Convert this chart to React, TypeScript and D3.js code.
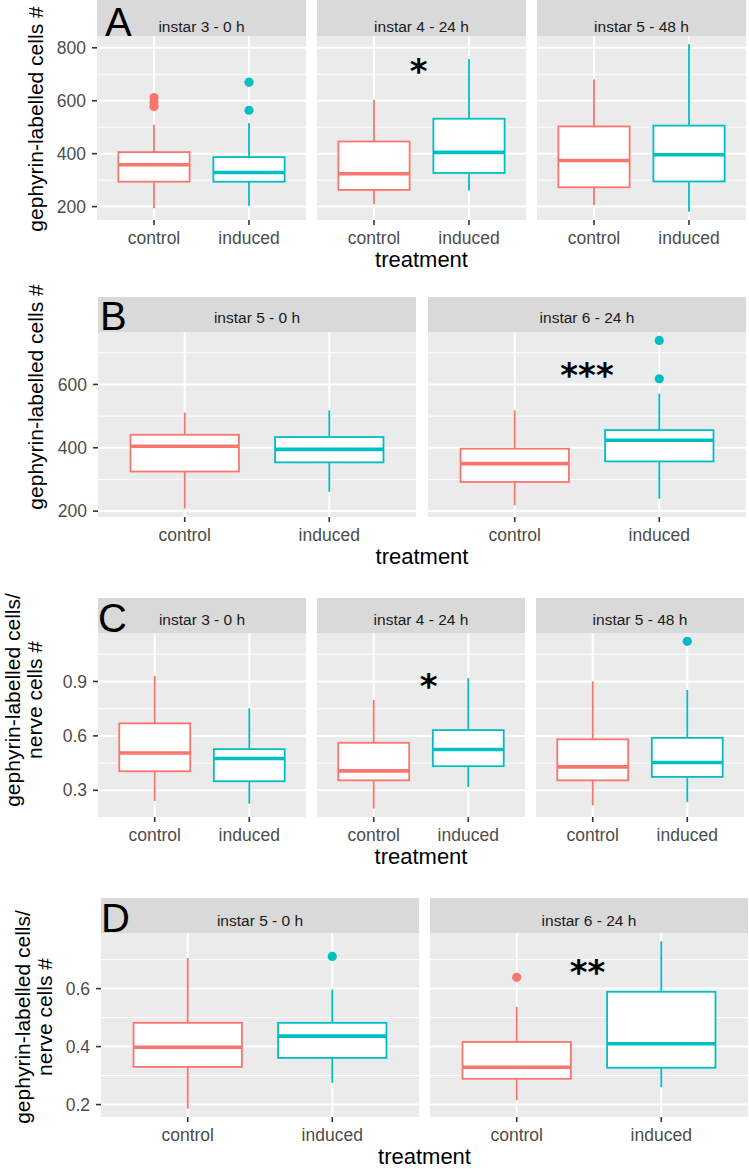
import { useEffect, useRef } from "react";
import * as d3 from "d3";

const treatments = ["control", "induced"];
const fills = ["#F8766D", "#00BFC4"];

// box stats per facet, per treatment: [lower whisker, q1, median, q3, upper whisker]
const facetsA = ["instar 3 - 0 h", "instar 4 - 24 h", "instar 5 - 48 h"];
const boxesA = [
	[[194, 294, 358, 406, 509], [203, 294, 329, 387, 516]],
	[[209, 263, 324, 446, 604], [261, 327, 405, 532, 758]],
	[[206, 273, 374, 503, 680], [181, 295, 396, 506, 813]],
];
const outliersA = [[[612, 595, 578], [670, 564]], [[], []], [[], []]];
const ticksA = [200, 400, 600, 800];

const facetsB = ["instar 5 - 0 h", "instar 6 - 24 h"];
const boxesB = [
	[[208, 325, 405, 441, 511], [261, 354, 395, 434, 518]],
	[[218, 292, 350, 397, 518], [239, 357, 424, 456, 571]],
];
const outliersB = [[[], []], [[], [739, 618]]];
const ticksB = [200, 400, 600];

const facetsC = ["instar 3 - 0 h", "instar 4 - 24 h", "instar 5 - 48 h"];
const boxesC = [
	[[0.241, 0.405, 0.506, 0.669, 0.931], [0.226, 0.35, 0.475, 0.527, 0.752]],
	[[0.199, 0.355, 0.407, 0.562, 0.798], [0.318, 0.433, 0.525, 0.632, 0.918]],
	[[0.217, 0.355, 0.429, 0.581, 0.9], [0.235, 0.374, 0.453, 0.589, 0.853]],
];
const outliersC = [[[], []], [[], []], [[], [1.121]]];
const ticksC = [0.3, 0.6, 0.9];

const facetsD = ["instar 5 - 0 h", "instar 6 - 24 h"];
const boxesD = [
	[[0.186, 0.33, 0.398, 0.482, 0.706], [0.275, 0.361, 0.436, 0.482, 0.597]],
	[[0.215, 0.289, 0.329, 0.416, 0.537], [0.26, 0.327, 0.41, 0.589, 0.763]],
];
const outliersD = [[[], [0.711]], [[0.639], []]];
const ticksD = [0.2, 0.4, 0.6];

// significance marks: [facet index, x position (category units), y value, label]
const starsA = [1, 1.47, 735, "*"];
const starsB = [1, 1.5, 648, "***"];
const starsC = [1, 1.58, 0.906, "*"];
const starsD = [1, 1.49, 0.679, "**"];

const titleSingle = ["gephyrin-labelled cells #"];
const titleRatio = ["gephyrin-labelled cells/", "nerve cells #"];

const rows = [
	{letter: "A", facets: facetsA, boxes: boxesA, outliers: outliersA, ticks: ticksA, stars: starsA, title: titleSingle,
		left: 97, right: 746, gap: 11, stripTop: 0, plotTop: 36, plotBottom: 220, stripText: 32,
		letterX: 105, letterY: 36, titleX: [43], titleY: 119},
	{letter: "B", facets: facetsB, boxes: boxesB, outliers: outliersB, ticks: ticksB, stars: starsB, title: titleSingle,
		left: 98, right: 746, gap: 12, stripTop: 297, plotTop: 332, plotBottom: 517, stripText: 323,
		letterX: 100, letterY: 330, titleX: [43], titleY: 397},
	{letter: "C", facets: facetsC, boxes: boxesC, outliers: outliersC, ticks: ticksC, stars: starsC, title: titleRatio,
		left: 98, right: 744, gap: 11, stripTop: 598, plotTop: 633, plotBottom: 817, stripText: 625,
		letterX: 98, letterY: 632, titleX: [20, 42], titleY: 700},
	{letter: "D", facets: facetsD, boxes: boxesD, outliers: outliersD, ticks: ticksD, stars: starsD, title: titleRatio,
		left: 101, right: 748, gap: 11, stripTop: 898, plotTop: 933, plotBottom: 1117, stripText: 926,
		letterX: 101, letterY: 932, titleX: [30, 52], titleY: 1017},
];

const FONT = "'Liberation Sans', Arial, Helvetica, sans-serif";

const App = () => {
	const svgRef = useRef(null);

	useEffect(() => {
		document.body.style.margin = "0";
		const svg = d3.select(svgRef.current);
		svg.selectAll("*").remove();
		svg.append("rect").attr("width", 749).attr("height", 1169).attr("fill", "#fff");

		rows.forEach((row) => {
			const g = svg.append("g");
			const all = row.boxes.flat(2).concat(row.outliers.flat(2));
			const [mn, mx] = d3.extent(all);
			const pad = (mx - mn) * 0.05;
			const y = d3.scaleLinear().domain([mn - pad, mx + pad]).range([row.plotBottom, row.plotTop]);
			const step = row.ticks[1] - row.ticks[0];
			const minors = [row.ticks[0] - step / 2, ...row.ticks.map((t) => t + step / 2)]
				.filter((v) => v >= y.domain()[0] && v <= y.domain()[1]);
			const n = row.facets.length;
			const pw = (row.right - row.left - row.gap * (n - 1)) / n;

			row.facets.forEach((facet, i) => {
				const x0 = row.left + i * (pw + row.gap);
				const x = d3.scaleLinear().domain([0.4, 2.6]).range([x0, x0 + pw]);
				const bw = (x(1.75) - x(1.0)) / 2;

				// strip
				g.append("rect")
					.attr("x", x0).attr("y", row.stripTop)
					.attr("width", pw).attr("height", row.plotTop - row.stripTop)
					.attr("fill", "#D9D9D9");
				g.append("text")
					.attr("x", x0 + pw / 2).attr("y", row.stripText)
					.attr("text-anchor", "middle")
					.attr("fill", "#1A1A1A")
					.style("font-family", FONT).style("font-size", "15.5px")
					.text(facet);

				// panel background + grid
				g.append("rect")
					.attr("x", x0).attr("y", row.plotTop)
					.attr("width", pw).attr("height", row.plotBottom - row.plotTop)
					.attr("fill", "#EBEBEB");
				minors.forEach((v) => {
					g.append("line")
						.attr("x1", x0).attr("x2", x0 + pw)
						.attr("y1", y(v)).attr("y2", y(v))
						.attr("stroke", "#fff").attr("stroke-width", 1);
				});
				row.ticks.forEach((v) => {
					g.append("line")
						.attr("x1", x0).attr("x2", x0 + pw)
						.attr("y1", y(v)).attr("y2", y(v))
						.attr("stroke", "#fff").attr("stroke-width", 2);
				});
				treatments.forEach((t, k) => {
					g.append("line")
						.attr("x1", x(k + 1)).attr("x2", x(k + 1))
						.attr("y1", row.plotTop).attr("y2", row.plotBottom)
						.attr("stroke", "#fff").attr("stroke-width", 2);
					// x ticks + labels
					g.append("line")
						.attr("x1", x(k + 1)).attr("x2", x(k + 1))
						.attr("y1", row.plotBottom).attr("y2", row.plotBottom + 5)
						.attr("stroke", "#333").attr("stroke-width", 1.6);
					g.append("text")
						.attr("x", x(k + 1)).attr("y", row.plotBottom + 24)
						.attr("text-anchor", "middle")
						.attr("fill", "#4D4D4D")
						.style("font-family", FONT).style("font-size", "17.5px")
						.text(t);
				});

				// boxes
				row.boxes[i].forEach((s, k) => {
					const cx = x(k + 1);
					const c = fills[k];
					const [lo, q1, med, q3, hi] = s;
					g.append("line").attr("x1", cx).attr("x2", cx).attr("y1", y(q3)).attr("y2", y(hi))
						.attr("stroke", c).attr("stroke-width", 1.8);
					g.append("line").attr("x1", cx).attr("x2", cx).attr("y1", y(q1)).attr("y2", y(lo))
						.attr("stroke", c).attr("stroke-width", 1.8);
					g.append("rect")
						.attr("x", cx - bw).attr("y", y(q3))
						.attr("width", bw * 2).attr("height", y(q1) - y(q3))
						.attr("fill", "#fff").attr("stroke", c).attr("stroke-width", 1.8);
					g.append("line").attr("x1", cx - bw).attr("x2", cx + bw).attr("y1", y(med)).attr("y2", y(med))
						.attr("stroke", c).attr("stroke-width", 3.6);
					row.outliers[i][k].forEach((o) => {
						g.append("circle").attr("cx", cx).attr("cy", y(o)).attr("r", 4.6).attr("fill", c);
					});
				});

				// significance
				const [si, sx, sy, label] = row.stars;
				if (si === i) {
					g.append("text")
						.attr("x", x(sx)).attr("y", y(sy) + 18)
						.attr("text-anchor", "middle")
						.attr("fill", "#000")
						.style("font-family", "'DejaVu Sans', sans-serif")
						.style("font-weight", "bold")
						.style("font-size", "34px")
						.text(label);
				}
			});

			// y axis ticks
			row.ticks.forEach((v) => {
				g.append("line")
					.attr("x1", row.left - 5).attr("x2", row.left)
					.attr("y1", y(v)).attr("y2", y(v))
					.attr("stroke", "#333").attr("stroke-width", 1.6);
				g.append("text")
					.attr("x", row.left - 11).attr("y", y(v))
					.attr("dy", "0.35em")
					.attr("text-anchor", "end")
					.attr("fill", "#4D4D4D")
					.style("font-family", FONT).style("font-size", "17.5px")
					.text(String(v));
			});

			// panel letter
			g.append("text")
				.attr("x", row.letterX).attr("y", row.letterY)
				.attr("fill", "#000")
				.style("font-family", FONT).style("font-size", "40px")
				.text(row.letter);

			// y axis title
			row.title.forEach((line, j) => {
				g.append("text")
					.attr("transform", `translate(${row.titleX[j]},${row.titleY}) rotate(-90)`)
					.attr("text-anchor", "middle")
					.attr("fill", "#000")
					.style("font-family", FONT).style("font-size", "21px")
					.text(line);
			});

			// x axis title
			g.append("text")
				.attr("x", (row.left + row.right) / 2).attr("y", row.plotBottom + 47)
				.attr("text-anchor", "middle")
				.attr("fill", "#000")
				.style("font-family", FONT).style("font-size", "22px")
				.text("treatment");
		});
	}, []);

	return (
		<div style={{width: 749, height: 1169}}>
			<svg ref={svgRef} width={749} height={1169} style={{display: "block"}}></svg>
		</div>
	);
};

export default App;
